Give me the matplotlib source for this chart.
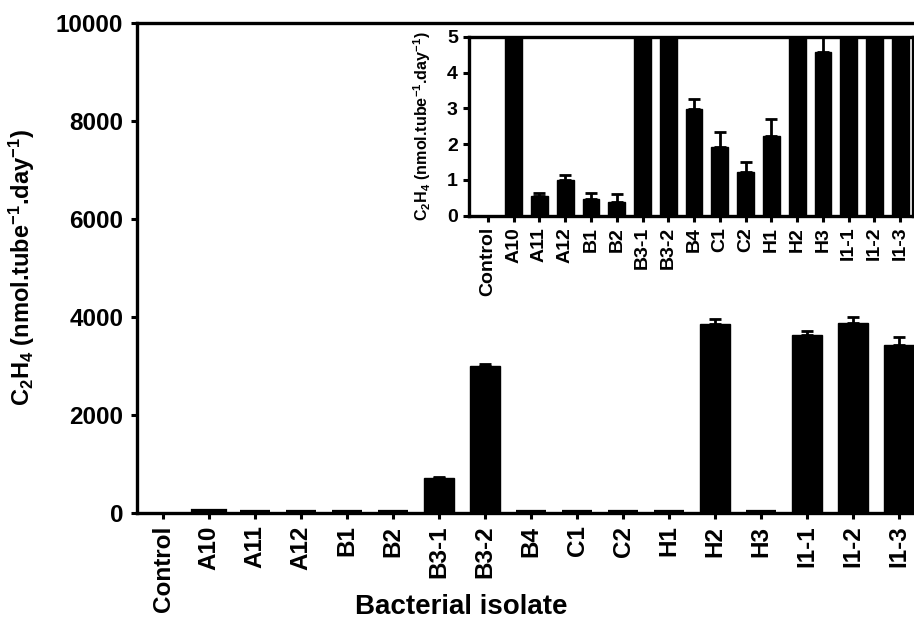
import numpy as np
import matplotlib
matplotlib.use('Agg')
import matplotlib.pyplot as plt

plt.rcParams['font.family'] = ['Liberation Sans', 'DejaVu Sans']
plt.rcParams['font.weight'] = 'bold'
plt.rcParams['mathtext.default'] = 'regular'
plt.rcParams['axes.unicode_minus'] = False

isolates = ['Control', 'A10', 'A11', 'A12', 'B1', 'B2', 'B3-1', 'B3-2', 'B4',
            'C1', 'C2', 'H1', 'H2', 'H3', 'I1-1', 'I1-2', 'I1-3']
# ethylene production, nmol per tube per day
ethylene = [0, 25, 0.55, 1.0, 0.48, 0.37, 720, 3000, 2.98,
            1.91, 1.22, 2.24, 3850, 4.57, 3640, 3885, 3435]
ethylene_sd = [0, 4, 0.09, 0.15, 0.16, 0.23, 15, 45, 0.27,
               0.43, 0.27, 0.45, 110, 0.6, 70, 115, 145]

ylab = r'C$_2$H$_4$ (nmol.tube$^{-1}$.day$^{-1}$)'

x = np.arange(len(isolates))
vals = np.array(ethylene)
err = np.array(ethylene_sd)

fig = plt.figure(figsize=(9.14, 6.28), dpi=100)

def draw(ax, fs, lw):
    ax.bar(x, vals, width=0.65, color='black', edgecolor='black', linewidth=lw,
           yerr=[np.zeros_like(err), err], capsize=4.5,
           error_kw=dict(elinewidth=2, capthick=2, ecolor='black'))
    ax.set_xticks(x)
    ax.set_xticklabels(isolates, rotation=90, fontsize=fs, fontweight='bold')
    ax.tick_params(axis='both', direction='out', length=4, width=2.2, labelsize=fs)
    for sp in ax.spines.values():
        sp.set_linewidth(2.4)

# main axes - tiny bars get a thick edge so they still show above the axis
main_lw = [0 if v == 0 else (4.5 if v < 100 else 1) for v in vals]
ax = fig.add_axes([0.150, 0.183, 0.864, 0.781])
draw(ax, 17.5, main_lw)
ax.set_xlim(-0.57, 16.6)
ax.set_ylim(0, 10000)
ax.set_yticks([0, 2000, 4000, 6000, 8000, 10000])
ax.set_yticklabels(['0', '2000', '4000', '6000', '8000', '10000'], fontsize=17.5, fontweight='bold')
ax.tick_params(axis='y', pad=6)
ax.tick_params(axis='x', pad=5)
ax.set_xlabel('Bacterial isolate', fontsize=20, fontweight='bold')
ax.xaxis.set_label_coords(0.41, -0.165)
ax.set_ylabel(ylab, fontsize=17, fontweight='bold')
ax.yaxis.set_label_coords(-0.127, 0.5)

# inset
ins_lw = [0 if v == 0 else 1 for v in vals]
ins = fig.add_axes([0.513, 0.6565, 0.486, 0.285])
draw(ins, 14, ins_lw)
ins.set_xlim(-0.74, 16.5)
ins.set_ylim(0, 5)
ins.set_yticks([0, 1, 2, 3, 4, 5])
ins.set_yticklabels(['0', '1', '2', '3', '4', '5'], fontsize=14, fontweight='bold')
ins.tick_params(axis='y', pad=4)
ins.tick_params(axis='x', pad=4)
ins.set_ylabel(ylab, fontsize=11.6, fontweight='bold')
ins.yaxis.set_label_coords(-0.081, 0.5)

fig.savefig('out.png', dpi=100)
